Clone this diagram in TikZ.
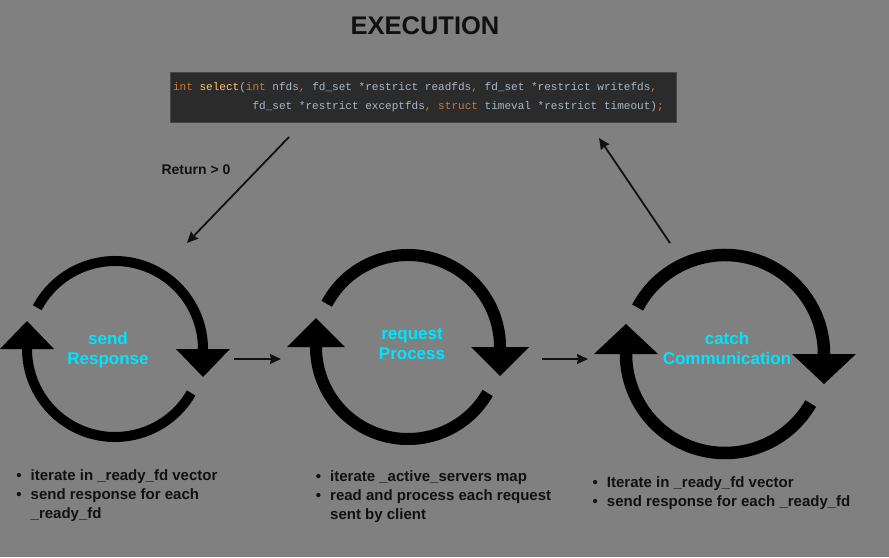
\documentclass[tikz,border=0pt]{standalone}
\usepackage{fontspec}
\setmainfont{Liberation Sans}
\setmonofont{Liberation Mono}
\usetikzlibrary{arrows.meta,positioning}

\definecolor{bggray}{RGB}{128,128,128}
\definecolor{codebg}{RGB}{43,43,43}
\definecolor{codeframe}{RGB}{70,70,70}
\definecolor{codetext}{RGB}{169,183,198}
\definecolor{codekw}{RGB}{204,120,50}
\definecolor{codefn}{RGB}{255,198,109}
\definecolor{labelcyan}{RGB}{0,229,255}
\definecolor{inkdark}{RGB}{17,17,17}

\tikzset{
  cyclelabel/.style={text=labelcyan, font=\bfseries\fontsize{17}{20}\selectfont, align=center, inner sep=0pt},
  bullets/.style={text=inkdark, font=\bfseries\fontsize{15}{19}\selectfont, inner sep=0pt, anchor=base west},
  flow/.style={->, line width=1.8pt, draw=inkdark}
}

\begin{document}
\begin{tikzpicture}[x=1pt,y=-1pt,>={Stealth[length=11pt,width=10pt,inset=1pt]}]

\path[fill=bggray,use as bounding box] (0,0) rectangle (889,557);

\node[text=inkdark, font=\bfseries\fontsize{25.5}{30}\selectfont] (title) at (425,26) {EXECUTION};

\node[draw=codeframe, line width=1pt, fill=codebg, minimum width=506pt, minimum height=50pt,
      text width=500pt, inner xsep=3pt, align=left, text=codetext,
      font=\ttfamily\fontsize{11.05}{19.5}\selectfont] (code) at (423,97)
  {\spaceskip=\fontcharwd\font`x\relax
   \textcolor{codekw}{int} \textcolor{codefn}{select}(\textcolor{codekw}{int} nfds\textcolor{codekw}{,} fd\_set *restrict readfds\textcolor{codekw}{,} fd\_set *restrict writefds\textcolor{codekw}{,}\\
   \phantom{xxxxxxxxxxxx}fd\_set *restrict exceptfds\textcolor{codekw}{,} \textcolor{codekw}{struct} timeval *restrict timeout)\textcolor{codekw}{;}};

% cycle icons
\foreach \cx/\cy/\r/\w/\a/\l in {115/349/88/10/27/28, 408/347/92/12/29/29, 725/354/99/12.5/32/30}{
  \draw[line width=\w pt] (\cx,\cy) ++(208:\r) arc[start angle=208, end angle=360, radius=\r];
  \draw[line width=\w pt] (\cx,\cy) ++(30:\r) arc[start angle=30, end angle=180, radius=\r];
  \fill (\cx+\r-\a,\cy) -- (\cx+\r+\a,\cy) -- (\cx+\r,\cy+\l) -- cycle;
  \fill (\cx-\r-\a,\cy) -- (\cx-\r+\a,\cy) -- (\cx-\r,\cy-\l) -- cycle;
}

\node[cyclelabel] (send)    at (108,350) {send\\Response};
\node[cyclelabel] (request) at (412,344) {request\\Process};
\node[cyclelabel] (catch)   at (727,348) {catch\\Communication};

\coordinate (ret from)  at (289,137);
\coordinate (ret to)    at (187,243);
\coordinate (back from) at (670,243);
\coordinate (back to)   at (599,138);
\coordinate (send out)    at (234,359);
\coordinate (request in)  at (281,359);
\coordinate (request out) at (542,359);
\coordinate (catch in)    at (588,359);

\draw[flow] (ret from) -- (ret to);
\draw[flow] (back from) -- (back to);
\draw[flow] (send out) -- (request in);
\draw[flow] (request out) -- (catch in);

\node[text=inkdark, font=\bfseries\fontsize{14}{16}\selectfont] (ret) at (196,170) {Return > 0};

\node[bullets] (sendlist) at (16.25,480)
  {\begin{tabular}[t]{@{}l@{\hspace{9pt}}l@{}}\textbullet & iterate in \_ready\_fd vector\\ \textbullet & send response for each\\ & \_ready\_fd\end{tabular}};
\node[bullets] (requestlist) at (315.75,481)
  {\begin{tabular}[t]{@{}l@{\hspace{9pt}}l@{}}\textbullet & iterate \_active\_servers map\\ \textbullet & read and process each request\\ & sent by client\end{tabular}};
\node[bullets] (catchlist) at (592.5,487)
  {\begin{tabular}[t]{@{}l@{\hspace{9pt}}l@{}}\textbullet & Iterate in \_ready\_fd vector\\ \textbullet & send response for each \_ready\_fd\end{tabular}};

\end{tikzpicture}
\end{document}
